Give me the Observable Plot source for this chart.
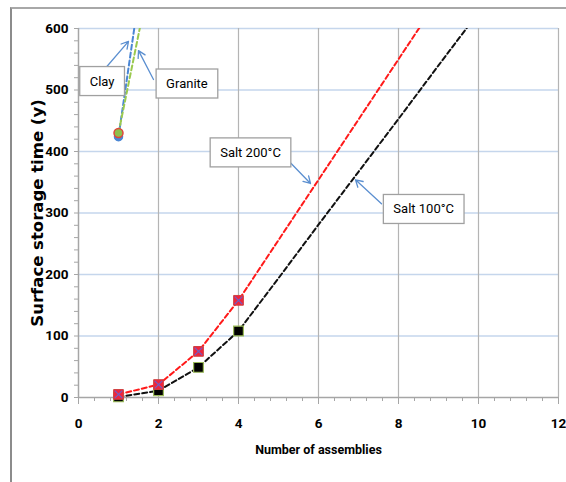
<!DOCTYPE html>
<html><head><meta charset="utf-8">
<script src="https://cdn.jsdelivr.net/npm/d3@7"></script>
<script src="https://cdn.jsdelivr.net/npm/@observablehq/plot@0.6"></script>
<style>
body{margin:0;background:#fff;}
#wrap{position:relative;width:566px;height:482px;overflow:hidden;background:#fff;}
#frame{position:absolute;left:10px;top:7px;width:600px;height:600px;border-left:2px solid #8c8c8c;border-top:2px solid #a8a8a8;}
#chart{position:absolute;left:0;top:0;}
</style></head><body>
<div id="wrap"><div id="frame"></div><div id="chart"></div></div>
<script>
// ---- data ----
const assemblies = [1, 2, 3, 4, 5, 6, 7, 8, 9, 10];
const salt200 = [5, 21, 75, 158, 256, 354, 452, 550, 648];
const salt100 = [1, 11, 49, 108, 194, 281, 367, 453, 540, 626];
const markedPoints = 4; // markers drawn at the first 4 assemblies
const clayX = [1, 2];
const clayY = [424, 871];
const graniteX = [1, 2];
const graniteY = [430, 750];
const yTicks = [0, 100, 200, 300, 400, 500, 600];
const xTicks = [0, 2, 4, 6, 8, 10, 12];
const labels = ["Clay", "Granite", "Salt 200°C", "Salt 100°C"];
const labelX = [0.59, 2.71, 4.3, 8.63];
const labelY = [514, 510, 398, 306];
const arrowFromX = [0.575, 1.875, 5.25, 7.575];
const arrowFromY = [528, 517, 385, 315];
const arrowToX = [1.25, 1.5, 5.8, 6.925];
const arrowToY = [579, 564, 348, 354];

const red = salt200.map((v, i) => ({x: assemblies[i], y: v}));
const black = salt100.map((v, i) => ({x: assemblies[i], y: v}));
const clay = clayY.map((v, i) => ({x: clayX[i], y: v}));
const granite = graniteY.map((v, i) => ({x: graniteX[i], y: v}));
const annos = labels.map((t, i) => ({t, x: labelX[i], y: labelY[i]}));
const arrows = labels.map((t, i) => ({x1: arrowFromX[i], y1: arrowFromY[i], x2: arrowToX[i], y2: arrowToY[i]}));

const narrow = "Roboto, 'Liberation Sans', sans-serif";
const gray = "#a6a6a6";
const minorX = d3.range(0, 31).map(i => +(i * 0.4).toFixed(2));
const minorY = d3.range(0, 31).map(i => i * 20);

const plot = Plot.plot({
  width: 566, height: 482,
  marginLeft: 78, marginRight: 8, marginTop: 28, marginBottom: 85,
  x: {domain: [0, 12]},
  y: {domain: [0, 600]},
  style: {fontFamily: narrow, fontSize: "14px", color: "#000", background: "transparent"},
  marks: [
    Plot.gridY(yTicks.slice(1), {stroke: "#c5d6ec", strokeOpacity: 1, strokeWidth: 1.5}),
    Plot.gridX(xTicks.slice(1), {stroke: "#b4b4b4", strokeOpacity: 1, strokeWidth: 1.2}),
    Plot.ruleY([0], {stroke: gray, strokeWidth: 1.5}),
    Plot.ruleX([0], {stroke: gray, strokeWidth: 1.5}),
    Plot.axisY(minorY, {tickSize: 4, text: null, stroke: gray, label: null}),
    Plot.axisY(yTicks, {tickSize: 0, tickPadding: 10, label: null, fontWeight: "bold", fontSize: 13.5}),
    Plot.axisX(minorX, {tickSize: 4, text: null, stroke: gray, label: null}),
    Plot.axisX(xTicks, {tickSize: 7, tickPadding: 14, label: null, stroke: gray, fontWeight: "bold", fontSize: 13.5}),
    Plot.text(["Surface storage time (y)"], {frameAnchor: "left", textAnchor: "middle", dx: -41, rotate: -90, fontWeight: "bold", fontSize: 16.5, fontFamily: "'DejaVu Sans', Verdana, sans-serif"}),
    Plot.text(["Number of assemblies"], {frameAnchor: "bottom", dy: 56, fontSize: 12.5, fontWeight: "bold"}),
    Plot.line(clay, {x: "x", y: "y", stroke: "#4a86d4", strokeWidth: 2, strokeDasharray: "5,3", clip: true}),
    Plot.line(granite, {x: "x", y: "y", stroke: "#9bc94f", strokeWidth: 2, strokeDasharray: "5,3", clip: true}),
    Plot.dot(clay.slice(0, 1), {x: "x", y: "y", r: 4, fill: "#4a86d4", stroke: "#4a86d4"}),
    Plot.dot(granite.slice(0, 1), {x: "x", y: "y", r: 4.5, fill: "#8fbf4c", stroke: "#e0443c", strokeWidth: 1.5}),
    Plot.line(red, {x: "x", y: "y", stroke: "#ff1a1a", strokeWidth: 2, strokeDasharray: "5,3", clip: true}),
    Plot.line(black, {x: "x", y: "y", stroke: "#111", strokeWidth: 2, strokeDasharray: "5,3", clip: true}),
    Plot.dot(black.slice(0, markedPoints), {x: "x", y: "y", symbol: "square", r: 5.5, fill: "#000", stroke: "#9bbb59", strokeWidth: 1.2}),
    Plot.dot(red.slice(0, markedPoints), {x: "x", y: "y", symbol: "square", r: 5.5, fill: "#f0243c", stroke: "#d04040", strokeWidth: 1}),
    Plot.dot(red.slice(0, markedPoints), {x: "x", y: "y", symbol: "times", r: 3.5, stroke: "#6a62c8", strokeWidth: 1.2}),
    Plot.arrow(arrows, {x1: "x1", y1: "y1", x2: "x2", y2: "y2", stroke: "#5b8fd0", strokeWidth: 1.3, headLength: 9, bend: 0}),
    Plot.text(annos, {x: "x", y: "y", text: "t", fontSize: 13, className: "anno"})
  ]
});
document.getElementById("chart").append(plot);
d3.select(plot).selectAll("g.anno text").each(function () {
  const b = this.getBBox();
  const padX = 10, padY = 7;
  d3.select(this.parentNode).insert("rect", () => this)
    .attr("transform", this.getAttribute("transform"))
    .attr("x", b.x - padX).attr("y", b.y - padY)
    .attr("width", b.width + 2 * padX).attr("height", b.height + 2 * padY)
    .attr("fill", "#fff").attr("stroke", "#a0a0a0").attr("stroke-width", 1.3);
});
</script>
</body></html>
